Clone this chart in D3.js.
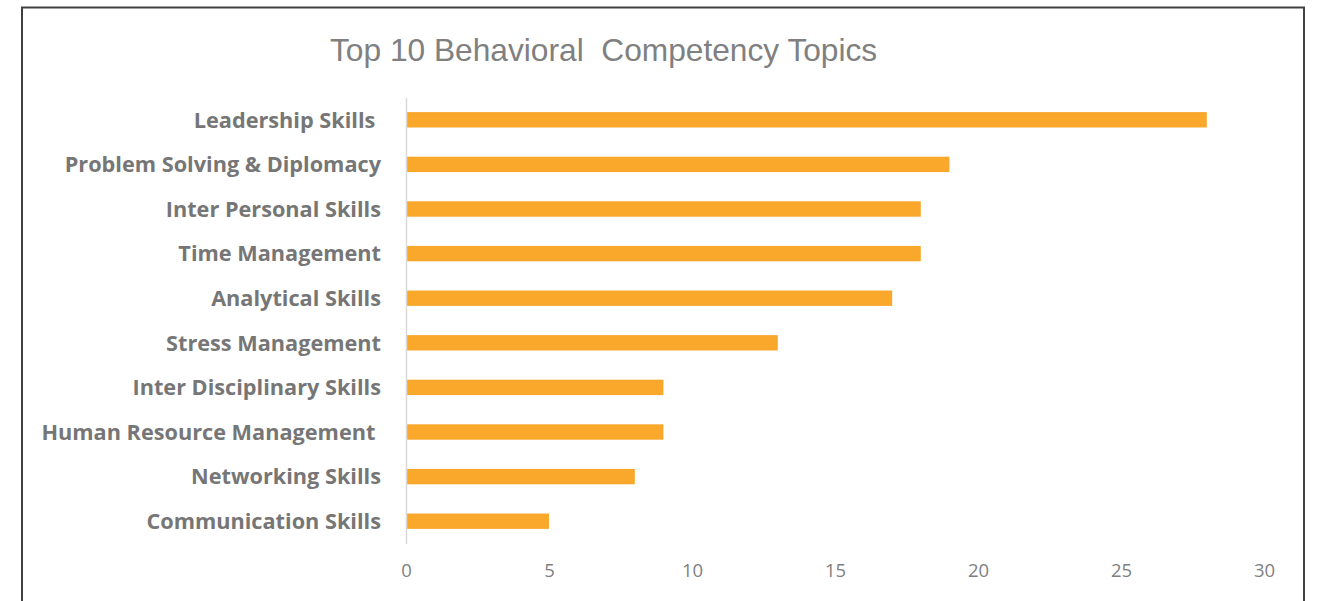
<!DOCTYPE html>
<html>
<head>
<meta charset="utf-8">
<script src="https://cdn.jsdelivr.net/npm/d3@7"></script>
<style>
  html, body { margin: 0; padding: 0; background: #fff; }
  svg { display: block; }
</style>
</head>
<body>
<svg id="chart" width="1320" height="601"></svg>
<script>
// Topic names, top to bottom
const topics = [
  "Leadership Skills ",
  "Problem Solving & Diplomacy",
  "Inter Personal Skills",
  "Time Management",
  "Analytical Skills",
  "Stress Management",
  "Inter Disciplinary Skills",
  "Human Resource Management ",
  "Networking Skills",
  "Communication Skills"
];
// Number of mentions per topic
const counts = [28, 19, 18, 18, 17, 13, 9, 9, 8, 5];
// Axis ticks
const xTicks = [0, 5, 10, 15, 20, 25, 30];
const chartTitle = "Top 10 Behavioral\u00a0 Competency Topics";

const font = "'Open Sans', sans-serif";
const svg = d3.select("#chart");

// Outer frame
svg.append("rect")
  .attr("x", 22).attr("y", 7.5)
  .attr("width", 1282).attr("height", 620)
  .attr("fill", "none")
  .attr("stroke", "#404040")
  .attr("stroke-width", 2);

const x = d3.scaleLinear().domain([0, 30]).range([406, 1264]);
const y = d3.scaleBand()
  .domain(topics)
  .range([97.5, 543.5])
  .paddingInner(0.655)
  .paddingOuter(0.3275);

// Title
svg.append("text")
  .attr("x", 330).attr("y", 60.5)
  .attr("font-family", "'Liberation Sans', Arial, sans-serif")
  .attr("font-size", 31.7)
  .attr("fill", "#808080")
  .text(chartTitle);

// Bars
svg.append("g").selectAll("rect")
  .data(topics)
  .join("rect")
  .attr("x", x(0))
  .attr("y", d => y(d))
  .attr("width", (d, i) => x(counts[i]) - x(0))
  .attr("height", y.bandwidth())
  .attr("fill", "#F9A82B");

// Category axis (vertical line + labels)
const yAxis = svg.append("g")
  .attr("transform", `translate(${x(0)},0)`)
  .call(d3.axisLeft(y).tickSize(0).tickPadding(25));
yAxis.select(".domain").attr("stroke", "#d9d9d9").attr("stroke-width", 1.5);
yAxis.selectAll("text")
  .attr("font-family", font)
  .attr("font-weight", "bold")
  .attr("font-size", 21.7)
  .attr("fill", "#767676")
  .attr("dy", "0.36em")
  .style("white-space", "pre");

// Value axis (labels only)
const xAxis = svg.append("g")
  .attr("transform", "translate(0,560)")
  .call(d3.axisBottom(x).tickValues(xTicks).tickSize(0).tickPadding(4));
xAxis.select(".domain").remove();
xAxis.selectAll("text")
  .attr("font-family", font)
  .attr("font-size", 18.5)
  .attr("fill", "#7f7f7f");
</script>
</body>
</html>
